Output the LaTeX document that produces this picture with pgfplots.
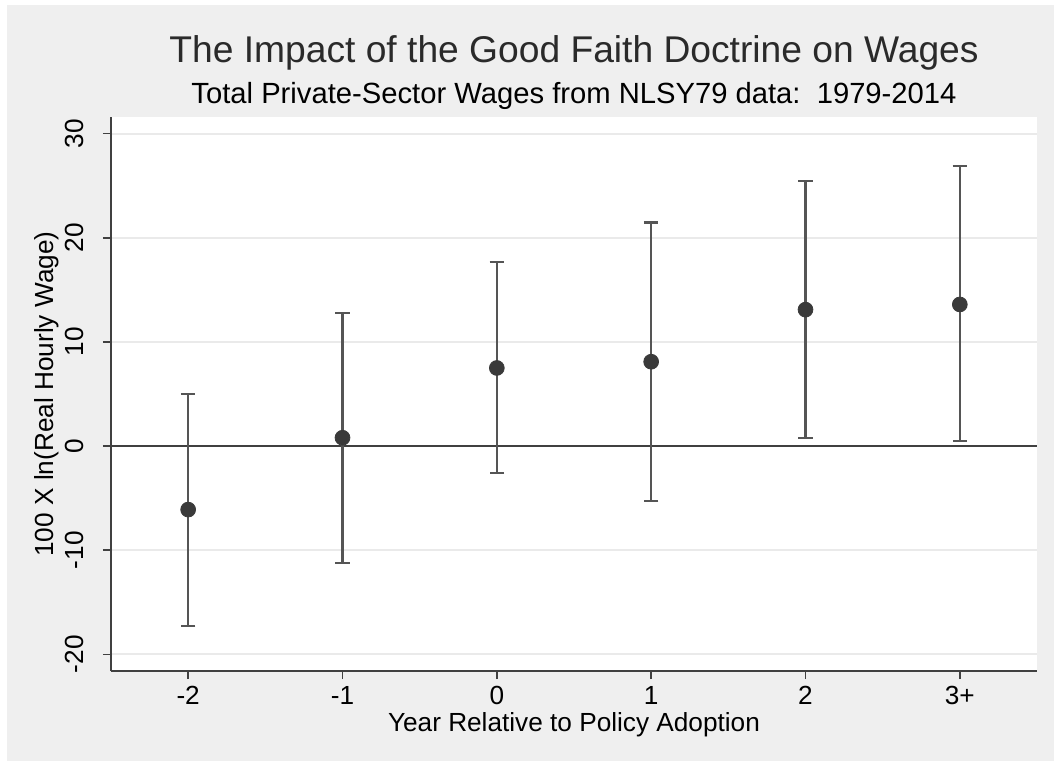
\documentclass[border=0pt]{standalone}
\usepackage{pgfplots}
\pgfplotsset{compat=1.18}
\usepackage{pgfplotstable}
\usepackage{fontspec}
\setmainfont{Liberation Sans}
\definecolor{bggray}{HTML}{EFEFEF}
\definecolor{gridgray}{HTML}{EAEAEA}
\definecolor{axgray}{HTML}{404040}
\definecolor{ebgray}{HTML}{555555}
\definecolor{dotgray}{HTML}{3A3A3A}
\definecolor{titlegray}{HTML}{2A2A2A}
\pgfplotstableread{
x y lo hi
-2 -6.1 -17.3 5.0
-1 0.8 -11.2 12.75
0 7.5 -2.6 17.7
1 8.1 -5.3 21.45
2 13.1 0.8 25.45
3 13.6 0.5 26.9
}\estimates
\begin{document}
\begin{tikzpicture}
\useasboundingbox (-55.5pt,-45pt) rectangle (471.5pt,335.5pt);
\fill[white] (-55.5pt,-45pt) rectangle (471.5pt,335.5pt);
\fill[bggray] (-52pt,-45pt) rectangle (471.5pt,333pt);
\begin{axis}[
  at={(0pt,0pt)}, anchor=south west,
  scale only axis, width=463pt, height=277pt,
  xmin=-2.5, xmax=3.5, ymin=-21.6, ymax=31.6,
  axis x line*=bottom, axis y line*=left,
  axis line style={-, draw=axgray, line width=0.8pt},
  axis background/.style={fill=white},
  tick align=outside, major tick length=4pt,
  tick style={draw=axgray, line width=0.8pt},
  xtick={-2,-1,0,1,2,3}, xticklabels={-2,-1,0,1,2,3+},
  ytick={-20,-10,0,10,20,30}, yticklabels={-20,-10,0,10,20,30},
  ymajorgrids, major grid style={draw=gridgray, line width=1pt},
  ticklabel style={font=\fontsize{13.1}{15}\selectfont, text=black},
  yticklabel style={rotate=90, anchor=south},
  yticklabel shift=6pt,
  every axis y label/.style={at={([xshift=-32pt]axis description cs:0,0.5)}, rotate=90, anchor=center},
  every axis x label/.style={at={([yshift=-27pt]axis description cs:0.5,0)}, anchor=center},
  label style={font=\fontsize{13.1}{15}\selectfont},
  xlabel={Year Relative to Policy Adoption},
  ylabel={100 X ln(Real Hourly Wage)},
  clip=false,
]
\addplot[draw=axgray, line width=1pt, forget plot] coordinates {(-2.5,0) (3.5,0)};
\addplot[only marks, mark=none, forget plot,
  error bars/.cd, y dir=both, y explicit,
  error bar style={draw=ebgray, line width=1.2pt},
  error mark options={draw=ebgray, line width=1.2pt, mark size=3.6pt, rotate=90}]
  table[x=x, y=y, y error plus expr=\thisrow{hi}-\thisrow{y}, y error minus expr=\thisrow{y}-\thisrow{lo}] {\estimates};
\addplot[only marks, mark=*, mark size=3.7pt, mark options={fill=dotgray, draw=dotgray}] table[x=x, y=y] {\estimates};
\end{axis}
\node[anchor=base, text=titlegray, font=\fontsize{18.6}{22}\selectfont] at (231.5pt,304pt) {The Impact of the Good Faith Doctrine on Wages};
\node[anchor=base, text=black, font=\fontsize{14.6}{17}\selectfont] at (231.5pt,283.5pt) {Total Private-Sector Wages from NLSY79 data:\ \ 1979-2014};
\end{tikzpicture}
\end{document}
